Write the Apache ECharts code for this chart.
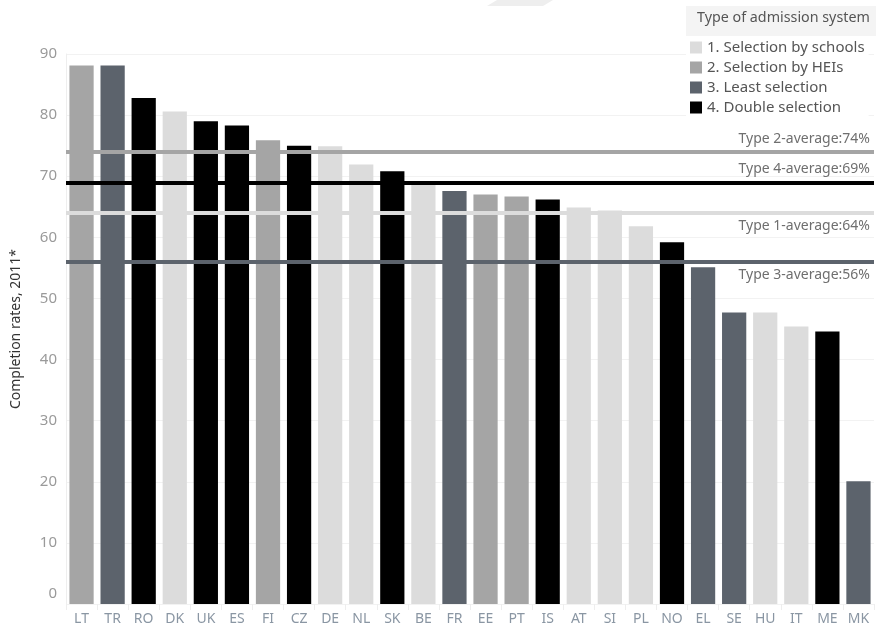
<!DOCTYPE html>
<html><head><meta charset="utf-8">
<script src="https://cdn.jsdelivr.net/npm/echarts@6/dist/echarts.min.js"></script>
<style>html,body{margin:0;padding:0;background:#fff}#c{width:876px;height:626px}</style>
</head><body><div id="c"></div>
<script>
const countries = ['LT','TR','RO','DK','UK','ES','FI','CZ','DE','NL','SK','BE','FR','EE','PT','IS','AT','SI','PL','NO','EL','SE','HU','IT','ME','MK'];
const rates = [88.1,88.1,82.8,80.6,79.0,78.3,75.9,75.0,74.9,71.9,70.8,69.0,67.6,67.0,66.7,66.2,64.9,64.4,61.8,59.2,55.1,47.7,47.7,45.4,44.6,20.1];
const types = [2,3,4,1,4,4,2,4,1,1,4,1,3,2,2,4,1,1,1,4,3,3,1,1,4,3];
const typeNames = ['1. Selection by schools','2. Selection by HEIs','3. Least selection','4. Double selection'];
const typeColors = ['#dcdcdc','#a5a5a5','#5c636c','#000000'];
const averages = [64,74,56,69];
const averageLabels = ['Type 1-average:64%','Type 2-average:74%','Type 3-average:56%','Type 4-average:69%'];
const yTicks = [0,10,20,30,40,50,60,70,80,90];

const font = 'Noto Sans';
const labelPos = ['insideEndBottom','insideEndTop','insideEndBottom','insideEndTop'];
const series = typeNames.map((name, t) => ({
  name: name,
  type: 'bar',
  stack: 'all',
  barCategoryGap: '22%',
  itemStyle: {color: typeColors[t]},
  data: rates.map((v, i) => types[i] === t + 1 ? v : '-'),
  z: 2
}));
series.push({
  name: 'averages', type: 'line', data: [], silent: true, z: 5,
  markLine: {
    symbol: 'none', silent: true, animation: false,
    data: averages.map((v, t) => ({
      yAxis: v,
      lineStyle: {color: typeColors[t], width: 4, type: 'solid'},
      label: {show: true, position: labelPos[t], formatter: averageLabels[t], color: '#6f6f6f', fontSize: 14, fontFamily: font, distance: [4, 6]}
    }))
  }
});

const chart = echarts.init(document.getElementById('c'));
chart.setOption({
  animation: false,
  textStyle: {fontFamily: font},
  grid: {left: 66, right: 2, top: 54, bottom: 21, containLabel: false},
  legend: {
    data: typeNames, orient: 'vertical', left: 686, top: 38,
    itemWidth: 12, itemHeight: 12, itemGap: 5, icon: 'rect',
    textStyle: {color: '#555', fontSize: 15, fontFamily: font},
    backgroundColor: '#fff', padding: [2, 4, 2, 4]
  },
  graphic: [
    {type: 'rect', left: 686, top: 6, shape: {width: 190, height: 30}, style: {fill: '#f4f4f4'}, z: 10},
    {type: 'text', left: 697, top: 11, style: {text: 'Type of admission system', fill: '#555', font: '14.3px "Noto Sans"'}, z: 11},
    {type: 'polygon', shape: {points: [[497, 0], [553, 0], [543, 6], [487, 6]]}, style: {fill: '#eeeeee'}, z: 0}
  ],
  xAxis: {
    type: 'category', data: countries,
    axisLine: {show: false}, axisTick: {show: true, length: 6, lineStyle: {color: '#eeeeee'}},
    axisLabel: {color: '#8a96a3', fontSize: 14, margin: 8, fontFamily: font},
    splitLine: {show: false}
  },
  yAxis: {
    type: 'value', min: 0, max: 90, interval: 10,
    name: 'Completion rates, 2011*', nameLocation: 'middle', nameGap: 43,
    nameTextStyle: {color: '#333', fontSize: 14, fontFamily: font},
    axisLine: {show: true, lineStyle: {color: '#eeeeee'}}, axisTick: {show: false},
    axisLabel: {color: '#9a9a9a', fontSize: 15, margin: 9, fontFamily: font,
      formatter: v => v === 0 ? '{z|0}' : (yTicks.includes(v) ? String(v) : ''),
      rich: {z: {color: '#9a9a9a', fontSize: 15, fontFamily: font, padding: [0, 0, 20, 0]}}},
    splitLine: {lineStyle: {color: '#f2f2f2'}}
  },
  series: series
});
</script></body></html>
